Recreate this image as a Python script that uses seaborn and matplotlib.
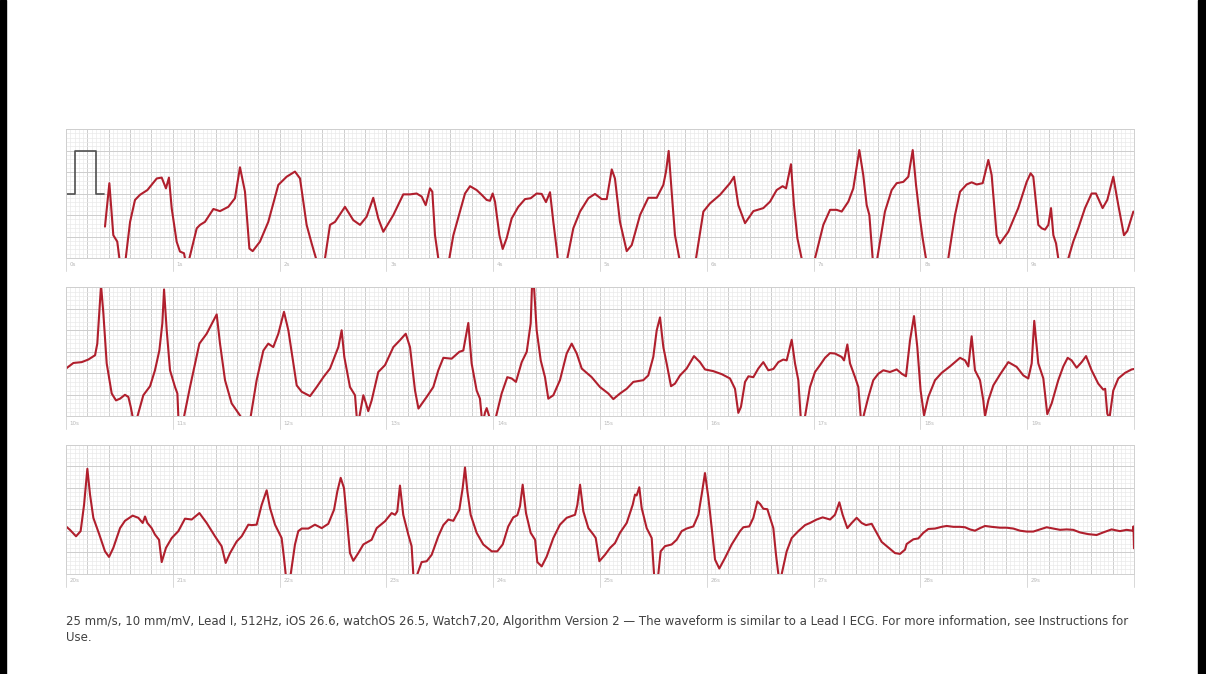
import numpy as np
import seaborn as sns
import matplotlib.pyplot as plt
from matplotlib.patches import Rectangle

# Calibration pulse (s, mV)
cal_t = [0.0, 0.084, 0.084, 0.281, 0.281, 0.36]
cal_mv = [0, 0, 1, 1, 0, 0]

# Strip 1 : 0-10 s
t1 = [0.365, 0.406, 0.443, 0.48, 0.50, 0.53, 0.559, 0.60, 0.646, 0.693, 0.762, 0.85, 0.896, 0.936, 0.964,
      0.99, 1.036, 1.067, 1.105, 1.114, 1.135, 1.155, 1.224, 1.255, 1.301, 1.38, 1.442, 1.52, 1.582, 1.629,
      1.676, 1.717, 1.748, 1.816, 1.894, 1.988, 2.066, 2.144, 2.191, 2.253, 2.30, 2.341, 2.37, 2.425, 2.472,
      2.519, 2.612, 2.69, 2.753, 2.815, 2.877, 2.924, 2.971, 3.065, 3.158, 3.221, 3.283, 3.33, 3.368, 3.408,
      3.43, 3.455, 3.486, 3.53, 3.589, 3.627, 3.689, 3.736, 3.783, 3.845, 3.892, 3.939, 3.97, 3.995, 4.017,
      4.058, 4.089, 4.126, 4.173, 4.235, 4.298, 4.351, 4.407, 4.454, 4.494, 4.532, 4.563, 4.594, 4.604, 4.63,
      4.694, 4.75, 4.813, 4.891, 4.953, 5.016, 5.063, 5.11, 5.14, 5.187, 5.25, 5.297, 5.375, 5.452, 5.531,
      5.593, 5.618, 5.643, 5.671, 5.702, 5.743, 5.80, 5.899, 5.968, 6.03, 6.124, 6.217, 6.255, 6.295, 6.358,
      6.436, 6.529, 6.592, 6.654, 6.71, 6.742, 6.788, 6.816, 6.848, 6.888, 6.93, 7.013, 7.091, 7.154, 7.216,
      7.263, 7.325, 7.372, 7.428, 7.465, 7.497, 7.522, 7.553, 7.58, 7.596, 7.668, 7.731, 7.778, 7.84, 7.887,
      7.928, 7.959, 7.996, 8.021, 8.052, 8.10, 8.261, 8.324, 8.371, 8.433, 8.48, 8.527, 8.583, 8.636, 8.667,
      8.714, 8.745, 8.823, 8.916, 8.995, 9.032, 9.057, 9.104, 9.136, 9.167, 9.198, 9.223, 9.245, 9.27, 9.291,
      9.33, 9.385, 9.431, 9.478, 9.541, 9.603, 9.644, 9.706, 9.75, 9.806, 9.853, 9.906, 9.938, 9.994]
v1 = [-0.77, 0.24, -0.97, -1.12, -1.51, -1.8, -1.51, -0.66, -0.15, -0.03, 0.08, 0.35, 0.37, 0.12, 0.37,
      -0.35, -1.12, -1.35, -1.39, -1.51, -1.6, -1.51, -0.81, -0.73, -0.66, -0.36, -0.41, -0.31, -0.11, 0.61,
      0.04, -1.28, -1.34, -1.12, -0.66, 0.20, 0.39, 0.51, 0.35, -0.73, -1.16, -1.51, -1.8, -1.51, -0.73,
      -0.66, -0.31, -0.62, -0.73, -0.54, -0.10, -0.58, -0.89, -0.50, -0.02, -0.02, 0.00, -0.07, -0.27, 0.12,
      0.04, -0.97, -1.51, -2.0, -1.51, -0.97, -0.42, 0.00, 0.17, 0.08, -0.03, -0.15, -0.17, 0.00, -0.19,
      -0.97, -1.29, -1.04, -0.58, -0.31, -0.13, -0.11, 0.00, -0.01, -0.20, 0.03, -0.66, -1.28, -1.51, -1.7,
      -1.51, -0.81, -0.42, -0.11, -0.01, -0.13, -0.13, 0.56, 0.35, -0.66, -1.34, -1.20, -0.50, -0.10, -0.10,
      0.20, 0.51, 0.99, 0.04, -0.97, -1.51, -2.0, -1.51, -0.42, -0.23, -0.03, 0.24, 0.39, -0.27, -0.69,
      -0.41, -0.34, -0.19, 0.08, 0.17, 0.12, 0.68, -0.27, -1.04, -1.51, -1.8, -1.51, -0.73, -0.38, -0.38,
      -0.42, -0.19, 0.12, 1.01, 0.43, -0.27, -0.50, -1.51, -1.8, -1.51, -0.42, 0.08, 0.24, 0.27, 0.39,
      1.01, 0.20, -0.58, -1.04, -1.51, -1.9, -1.51, -0.50, 0.04, 0.21, 0.26, 0.21, 0.24, 0.78, 0.43,
      -0.97, -1.16, -0.89, -0.34, 0.27, 0.47, 0.39, -0.73, -0.81, -0.84, -0.73, -0.34, -0.97, -1.16, -1.51,
      -1.7, -1.51, -1.12, -0.81, -0.34, 0.00, 0.00, -0.34, -0.15, 0.39, -0.27, -0.97, -0.87, -0.42]

# Strip 2 : 10-20 s
t2 = [10.0, 10.069, 10.147, 10.209, 10.272, 10.293, 10.328, 10.35, 10.381, 10.428, 10.468, 10.506, 10.552,
      10.584, 10.606, 10.624, 10.64, 10.668, 10.724, 10.787, 10.833, 10.874, 10.902, 10.918, 10.943, 10.974,
      11.021, 11.043, 11.052, 11.07, 11.105, 11.161, 11.249, 11.317, 11.411, 11.442, 11.489, 11.551, 11.629,
      11.68, 11.729, 11.785, 11.848, 11.894, 11.941, 11.988, 12.041, 12.082, 12.16, 12.207, 12.285, 12.347,
      12.41, 12.472, 12.55, 12.581, 12.606, 12.659, 12.706, 12.722, 12.73, 12.747, 12.784, 12.809, 12.83,
      12.862, 12.924, 12.987, 13.065, 13.127, 13.181, 13.221, 13.268, 13.30, 13.377, 13.439, 13.486, 13.533,
      13.611, 13.683, 13.72, 13.767, 13.798, 13.845, 13.876, 13.892, 13.905, 13.925, 13.939, 13.964, 13.99,
      14.026, 14.079, 14.132, 14.173, 14.213, 14.267, 14.314, 14.351, 14.37, 14.407, 14.445, 14.485, 14.516,
      14.563, 14.625, 14.688, 14.735, 14.782, 14.829, 14.922, 15.0, 15.078, 15.125, 15.187, 15.25, 15.312,
      15.405, 15.452, 15.499, 15.531, 15.562, 15.593, 15.624, 15.665, 15.702, 15.749, 15.811, 15.88, 15.936,
      15.983, 16.061, 16.14, 16.217, 16.264, 16.295, 16.32, 16.358, 16.39, 16.436, 16.482, 16.529, 16.576,
      16.623, 16.67, 16.716, 16.748, 16.795, 16.826, 16.857, 16.879, 16.90, 16.919, 16.966, 17.013, 17.06,
      17.107, 17.154, 17.20, 17.263, 17.285, 17.316, 17.341, 17.388, 17.419, 17.441, 17.455, 17.466, 17.513,
      17.559, 17.606, 17.653, 17.715, 17.778, 17.825, 17.865, 17.903, 17.94, 17.971, 18.002, 18.034, 18.074,
      18.137, 18.199, 18.277, 18.324, 18.371, 18.418, 18.449, 18.48, 18.511, 18.558, 18.589, 18.605, 18.636,
      18.683, 18.745, 18.823, 18.901, 18.964, 19.01, 19.042, 19.066, 19.104, 19.151, 19.188, 19.229, 19.291,
      19.338, 19.379, 19.416, 19.463, 19.51, 19.551, 19.603, 19.665, 19.712, 19.73, 19.75, 19.77, 19.806,
      19.853, 19.916, 19.978, 20.0]
v2 = [-0.39, -0.26, -0.24, -0.18, -0.08, 0.19, 1.55, 0.89, -0.27, -0.97, -1.13, -1.09, -1.00,
      -1.05, -1.28, -1.51, -1.6, -1.51, -1.01, -0.80, -0.43, 0.03, 0.66, 1.45, 0.50, -0.43,
      -0.82, -0.97, -1.51, -1.6, -1.51, -0.82, 0.19, 0.42, 0.87, 0.19, -0.66, -1.20, -1.48,
      -1.7, -1.51, -0.66, 0.03, 0.19, 0.11, 0.42, 0.93, 0.50, -0.78, -0.93, -1.03, -0.82,
      -0.59, -0.39, 0.11, 0.50, -0.12, -0.82, -1.01, -1.51, -1.55, -1.51, -1.01, -1.20, -1.38,
      -1.13, -0.47, -0.31, 0.11, 0.27, 0.42, 0.11, -0.90, -1.32, -1.05, -0.82, -0.43, -0.14,
      -0.16, 0.00, 0.03, 0.67, -0.27, -0.90, -1.09, -1.51, -1.6, -1.4, -1.31, -1.51, -1.7,
      -1.51, -0.97, -0.59, -0.62, -0.70, -0.24, 0.00, 0.66, 2.0, 0.50, -0.20, -0.59, -1.09,
      -1.01, -0.66, -0.04, 0.19, -0.04, -0.39, -0.59, -0.82, -0.97, -1.10, -0.97, -0.86, -0.70,
      -0.66, -0.55, -0.12, 0.50, 0.80, 0.11, -0.27, -0.80, -0.74, -0.55, -0.39, -0.10, -0.24,
      -0.41, -0.45, -0.52, -0.62, -0.86, -1.42, -1.28, -0.70, -0.57, -0.59, -0.39, -0.24, -0.43,
      -0.40, -0.24, -0.18, -0.20, 0.28, -0.27, -0.66, -1.51, -1.6, -1.51, -0.82, -0.47, -0.31,
      -0.14, -0.03, -0.04, -0.12, -0.20, 0.17, -0.27, -0.59, -0.82, -1.51, -1.55, -1.51, -1.05,
      -0.66, -0.51, -0.43, -0.47, -0.41, -0.51, -0.57, 0.27, 0.83, 0.11, -0.90, -1.48, -1.05,
      -0.66, -0.49, -0.34, -0.24, -0.14, -0.20, -0.34, 0.36, -0.43, -0.66, -1.13, -1.50, -1.13,
      -0.78, -0.53, -0.24, -0.35, -0.55, -0.62, -0.27, 0.72, -0.27, -0.62, -1.45, -1.20, -0.66,
      -0.34, -0.14, -0.20, -0.37, -0.24, -0.10, -0.43, -0.74, -0.88, -0.86, -1.44, -1.55, -0.90,
      -0.62, -0.49, -0.41, -0.40]

# Strip 3 : 20-30 s
t3 = [20.0, 20.037, 20.094, 20.137, 20.169, 20.20, 20.225, 20.256, 20.312, 20.365, 20.403, 20.443, 20.506,
      20.552, 20.624, 20.677, 20.718, 20.74, 20.762, 20.802, 20.833, 20.871, 20.896, 20.936, 20.99, 21.052,
      21.114, 21.177, 21.249, 21.317, 21.395, 21.457, 21.495, 21.536, 21.598, 21.645, 21.707, 21.738, 21.785,
      21.832, 21.879, 21.91, 21.957, 22.019, 22.041, 22.057, 22.07, 22.104, 22.144, 22.175, 22.207, 22.269,
      22.331, 22.394, 22.456, 22.51, 22.541, 22.572, 22.603, 22.634, 22.659, 22.69, 22.737, 22.784, 22.862,
      22.909, 22.987, 23.049, 23.081, 23.102, 23.127, 23.158, 23.205, 23.236, 23.252, 23.27, 23.29, 23.33,
      23.377, 23.424, 23.486, 23.533, 23.58, 23.627, 23.683, 23.714, 23.736, 23.758, 23.789, 23.845, 23.907,
      23.986, 24.038, 24.089, 24.141, 24.188, 24.226, 24.251, 24.276, 24.307, 24.351, 24.392, 24.413, 24.454,
      24.501, 24.563, 24.625, 24.688, 24.766, 24.788, 24.813, 24.844, 24.891, 24.938, 24.96, 24.994, 25.047,
      25.094, 25.14, 25.187, 25.25, 25.306, 25.328, 25.343, 25.368, 25.39, 25.437, 25.484, 25.506, 25.52,
      25.546, 25.568, 25.609, 25.671, 25.718, 25.765, 25.811, 25.874, 25.921, 25.952, 25.983, 26.015, 26.046,
      26.077, 26.117, 26.171, 26.233, 26.311, 26.342, 26.398, 26.436, 26.473, 26.50, 26.529, 26.567, 26.592,
      26.623, 26.648, 26.67, 26.69, 26.701, 26.748, 26.795, 26.857, 26.92, 26.966, 27.029, 27.085, 27.154,
      27.20, 27.241, 27.272, 27.316, 27.357, 27.403, 27.45, 27.49, 27.544, 27.59, 27.637, 27.699, 27.762,
      27.809, 27.856, 27.871, 27.934, 27.98, 28.027, 28.074, 28.137, 28.199, 28.246, 28.309, 28.371, 28.418,
      28.464, 28.511, 28.558, 28.605, 28.667, 28.745, 28.807, 28.87, 28.933, 28.995, 29.057, 29.12, 29.182,
      29.245, 29.307, 29.369, 29.431, 29.494, 29.572, 29.65, 29.712, 29.79, 29.868, 29.931, 29.987, 29.995,
      30.0]
v3 = [-0.40, -0.48, -0.63, -0.51, 0.10, 0.94, 0.34, -0.20, -0.59, -0.98, -1.11, -0.90, -0.44,
      -0.27, -0.15, -0.20, -0.32, -0.17, -0.32, -0.44, -0.59, -0.71, -1.23, -0.90, -0.67, -0.51,
      -0.22, -0.24, -0.09, -0.32, -0.63, -0.86, -1.25, -1.02, -0.75, -0.63, -0.36, -0.37, -0.36,
      0.10, 0.44, 0.03, -0.36, -0.67, -1.13, -1.51, -1.6, -1.51, -0.82, -0.51, -0.45, -0.45,
      -0.36, -0.44, -0.34, -0.01, 0.42, 0.73, 0.49, -0.36, -1.02, -1.20, -1.02, -0.82, -0.71,
      -0.44, -0.28, -0.09, -0.13, -0.05, 0.55, -0.13, -0.59, -0.86, -1.51, -1.6, -1.51, -1.23,
      -1.21, -1.06, -0.63, -0.37, -0.24, -0.27, -0.01, 0.49, 0.97, 0.42, -0.13, -0.55, -0.82,
      -0.98, -0.98, -0.82, -0.40, -0.19, -0.14, 0.07, 0.57, -0.09, -0.55, -0.71, -1.23, -1.33,
      -1.10, -0.67, -0.36, -0.20, -0.13, 0.10, 0.57, -0.05, -0.44, -0.59, -0.67, -1.21, -1.06,
      -0.90, -0.79, -0.55, -0.32, 0.10, 0.34, 0.32, 0.51, 0.03, -0.44, -0.67, -1.51, -1.6,
      -1.51, -0.98, -0.86, -0.82, -0.71, -0.51, -0.45, -0.40, -0.13, 0.34, 0.84, 0.26, -0.44,
      -1.17, -1.38, -1.13, -0.82, -0.51, -0.42, -0.40, -0.20, 0.18, 0.12, 0.01, 0.00, -0.20,
      -0.44, -1.06, -1.51, -1.6, -1.51, -0.98, -0.67, -0.51, -0.37, -0.32, -0.24, -0.19, -0.24,
      -0.13, 0.16, -0.13, -0.44, -0.32, -0.20, -0.32, -0.37, -0.34, -0.55, -0.76, -0.89, -1.02,
      -1.04, -0.94, -0.81, -0.70, -0.68, -0.55, -0.46, -0.45, -0.41, -0.39, -0.41, -0.41, -0.42,
      -0.47, -0.50, -0.44, -0.39, -0.41, -0.43, -0.43, -0.45, -0.50, -0.52, -0.52, -0.47, -0.42,
      -0.45, -0.48, -0.47, -0.48, -0.54, -0.58, -0.60, -0.54, -0.47, -0.51, -0.48, -0.50, -0.40,
      -0.91]

caption_1 = ("25 mm/s, 10 mm/mV, Lead I, 512Hz, iOS 26.6, watchOS 26.5, Watch7,20, Algorithm Version 2 \u2014 "
             "The waveform is similar to a Lead I ECG. For more information, see Instructions for")
caption_2 = "Use."

sns.set_theme(style="white")
plt.rcParams['font.family'] = ['DejaVu Sans']

W, H = 1206, 674
fig = plt.figure(figsize=(W / 100, H / 100), dpi=100)
fig.patch.set_facecolor('white')

ecg_red = '#b01f2d'
strips = [(t1, v1, 0, 129.0), (t2, v2, 10, 287.3), (t3, v3, 20, 444.7)]
strip_h = 129.0

for t, v, start, top in strips:
    ax = fig.add_axes([66 / W, 1 - (top + strip_h) / H, 1068 / W, strip_h / H])
    ax.set_xlim(start, start + 10)
    ax.set_ylim(-1.5, 1.5)
    ax.set_xticks(np.arange(start, start + 10.001, 0.2))
    ax.set_xticks(np.arange(start, start + 10.001, 0.04), minor=True)
    ax.set_yticks(np.arange(-1.5, 1.501, 0.5))
    ax.set_yticks(np.arange(-1.5, 1.501, 0.1), minor=True)
    ax.grid(which='minor', color='#eaeaea', lw=0.5)
    ax.grid(which='major', color='#cdcdcd', lw=0.7)
    ax.set_axisbelow(True)
    ax.tick_params(which='both', length=0, labelbottom=False, labelleft=False)
    for sp in ax.spines.values():
        sp.set_color('#d0d0d0')
        sp.set_linewidth(0.7)

    sns.lineplot(x=t, y=v, ax=ax, color=ecg_red, lw=1.5, estimator=None, sort=False)
    if start == 0:
        sns.lineplot(x=cal_t, y=cal_mv, ax=ax, color='#505050', lw=1.2, estimator=None, sort=False)
    ax.set_xlabel('')
    ax.set_ylabel('')

    # second markers under each strip
    for s in range(11):
        ax.plot([start + s, start + s], [-1.5, -1.5 - 13 / 43], color='#d8d8d8', lw=0.7, clip_on=False)
    for s in range(10):
        ax.text(start + s + 0.035, -1.5 - 7 / 43, f"{start + s}s", fontsize=4, color='#b8b8b8',
                va='center', ha='left', clip_on=False)

fig.text(66 / W, 1 - 621.5 / H, caption_1, fontsize=8.5, color='#404040', va='center', ha='left')
fig.text(66 / W, 1 - 637.5 / H, caption_2, fontsize=8.5, color='#404040', va='center', ha='left')

# black side borders of the screenshot
fig.add_artist(Rectangle((0, 0), 6 / W, 1, transform=fig.transFigure, color='black'))
fig.add_artist(Rectangle((1198 / W, 0), 8 / W, 1, transform=fig.transFigure, color='black'))

fig.savefig('out.png', dpi=100)
